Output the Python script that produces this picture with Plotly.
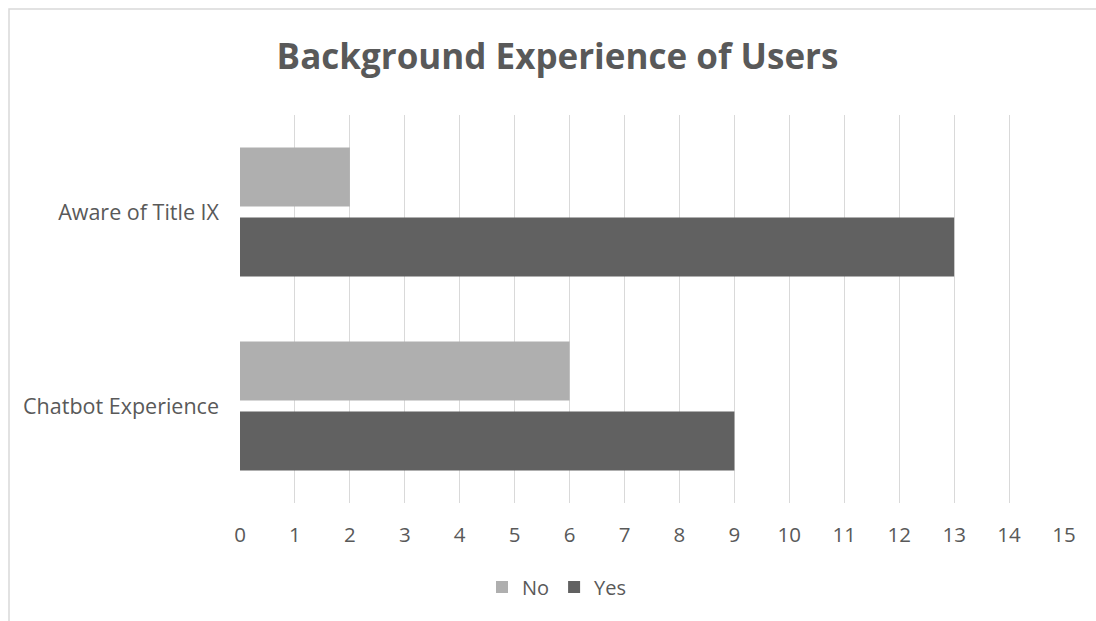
import plotly.graph_objects as go

categories = ["Chatbot Experience", "Aware of Title IX"]
no_values = [6, 2]
yes_values = [9, 13]
x_ticks = list(range(0, 16))

W, H = 1096, 621
L, R, T, B = 240, 32, 115, 118
pw, ph = W - L - R, H - T - B

fig = go.Figure()
fig.add_trace(go.Bar(y=categories, x=yes_values, name="Yes", orientation="h",
                     marker=dict(color="#616161", line=dict(width=0))))
fig.add_trace(go.Bar(y=categories, x=no_values, name="No", orientation="h",
                     marker=dict(color="#afafaf", line=dict(width=0))))

font_fam = "'Open Sans', Lato, sans-serif"
fig.update_layout(
    width=W, height=H,
    margin=dict(l=L, r=R, t=T, b=B),
    paper_bgcolor="white", plot_bgcolor="white",
    barmode="group", bargap=0.278, bargroupgap=0.157,
    title=dict(text="<b>Background Experience of Users</b>", x=557.5 / W, xref="container",
               xanchor="center", y=1 - 57 / H, yref="container", yanchor="middle",
               font=dict(family=font_fam, size=35, color="#595959")),
    font=dict(family=font_fam, size=20, color="#595959"),
    xaxis=dict(range=[0, 15], tickvals=x_ticks, showgrid=True, gridcolor="#d9d9d9",
               gridwidth=1, zeroline=False, showline=False, ticks="",
               ticklabelstandoff=17, tickfont=dict(size=20.5, color="#595959")),
    yaxis=dict(range=[-0.5, 1.5], showgrid=False, zeroline=False, showline=False,
               ticks="", ticklabelstandoff=20, tickfont=dict(size=21.5, color="#595959")),
    legend=dict(orientation="h", x=(557 - L) / pw, xanchor="center",
                y=(ph - (587 - T)) / ph, yanchor="middle", traceorder="reversed",
                font=dict(size=20, color="#595959"), itemwidth=30),
    showlegend=True,
    shapes=[dict(type="rect", xref="paper", yref="paper",
                 x0=(9 - L) / pw, x1=(W + 20 - L) / pw,
                 y0=(ph - (H + 20 - T)) / ph, y1=(ph - (9 - T)) / ph,
                 line=dict(color="#d9d9d9", width=1.5), fillcolor="rgba(0,0,0,0)",
                 layer="below")],
)
fig.write_html("out.html")
